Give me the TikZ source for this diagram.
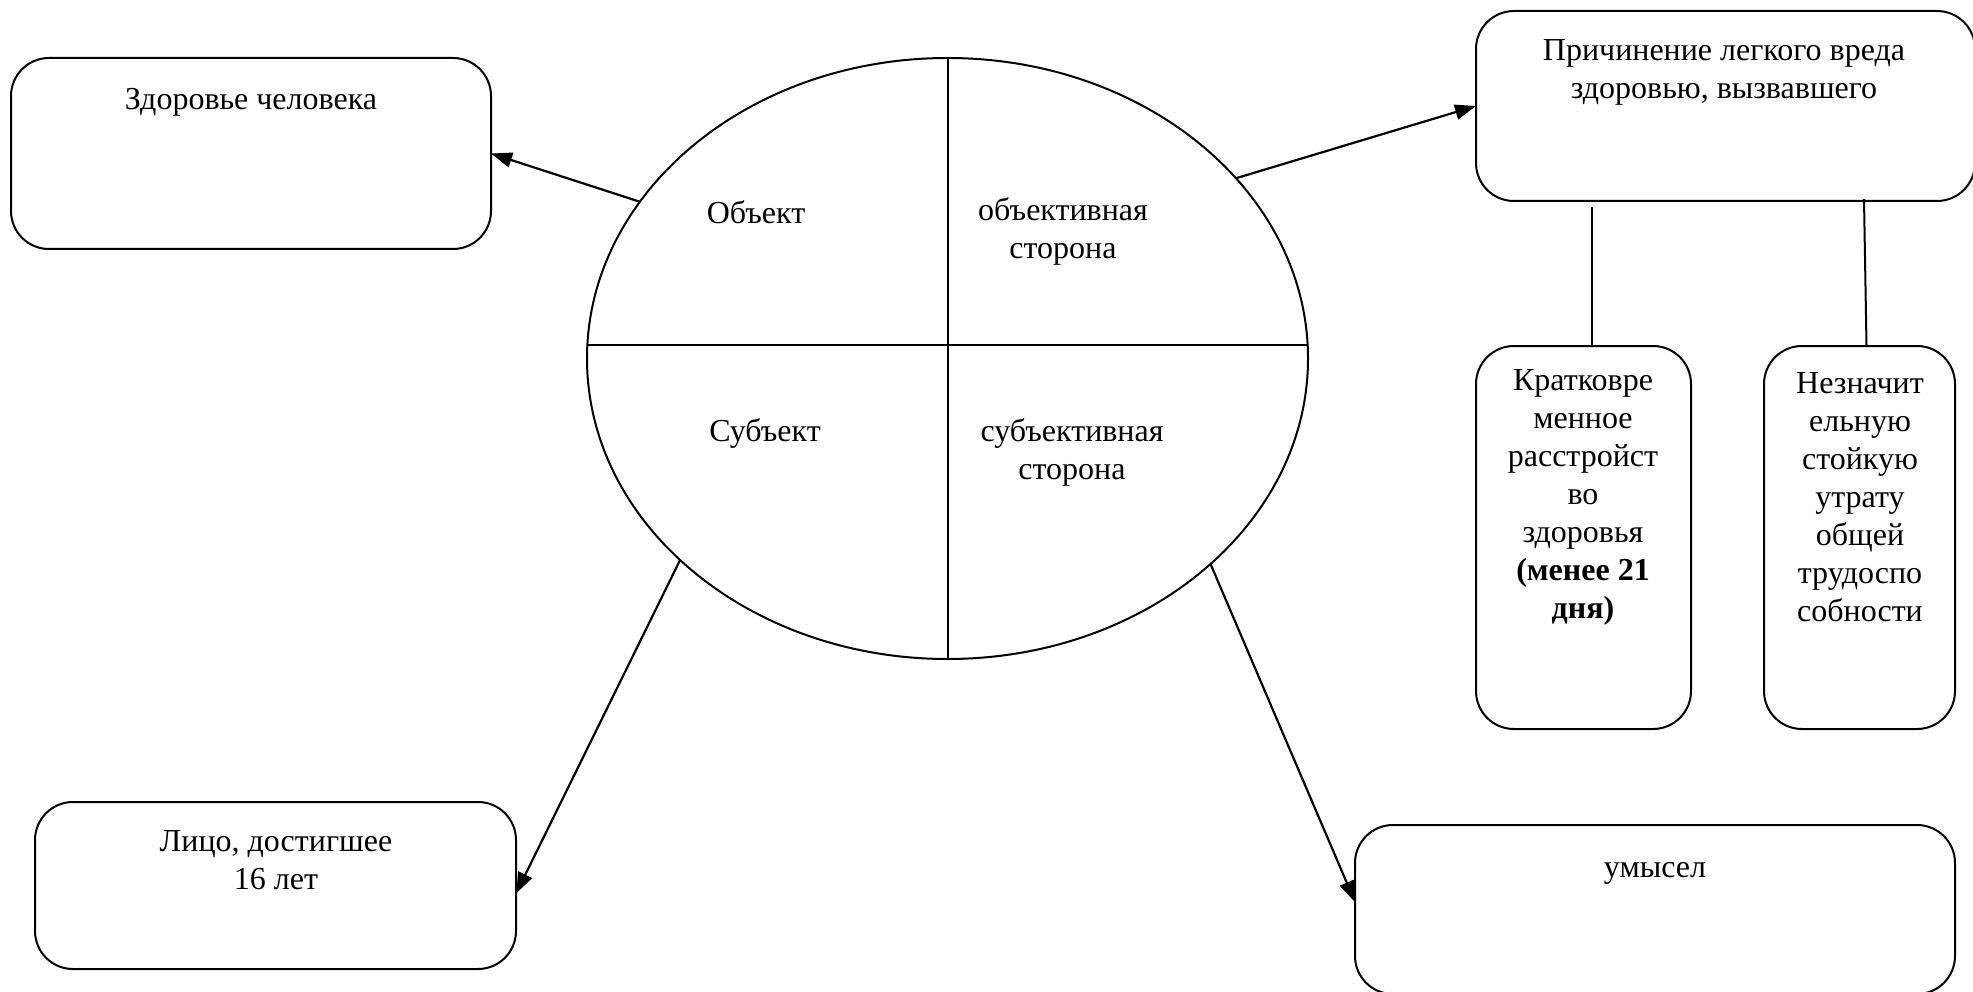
\documentclass[tikz,border=0pt]{standalone}
\usepackage{fontspec}
\setmainfont{Liberation Serif}
\usetikzlibrary{arrows.meta,shapes.geometric}
\begin{document}
\begin{tikzpicture}[x=1pt,y=-1pt,
  box/.style={draw,line width=2pt,rounded corners=38pt,inner sep=0pt,outer sep=0pt},
  txt/.style={align=center,inner sep=0pt,font=\fontsize{32}{38}\selectfont},
  arr/.style={line width=2.2pt,-{Triangle[length=21pt,width=15pt]}},
  conn/.style={line width=2pt}]
\useasboundingbox (0,0) rectangle (1973,992);
% boxes
\node[box,minimum width=480pt,minimum height=191pt] (Z) at (251,153.5) {};
\node[box,minimum width=499pt,minimum height=190pt] (P) at (1725.5,106) {};
\node[box,minimum width=215pt,minimum height=383pt] (K) at (1583.5,537.5) {};
\node[box,minimum width=191pt,minimum height=383pt] (N) at (1859.5,537.5) {};
\node[box,minimum width=481pt,minimum height=167pt] (L) at (275.5,885.5) {};
\node[box,minimum width=600pt,minimum height=169pt] (U) at (1655,909.5) {};
% ellipse
\node[draw,line width=2pt,ellipse,inner sep=0pt,outer sep=0pt,minimum width=721pt,minimum height=601pt] (E) at (947.5,358.5) {};
\coordinate (hl) at (0,345);
\draw[conn] (E.west |- hl) -- (E.east |- hl);
\draw[conn] (E.north) -- (E.south);
% texts
\node[txt] (tZ) at (251,102) {Здоровье человека};
\node[txt] (tP) at (1724,72) {Причинение легкого вреда\\здоровью, вызвавшего};
\node[txt] (tK) at (1583,497) {Кратковре\\менное\\расстройст\\во\\здоровья\\\textbf{(менее 21}\\\textbf{дня)}};
\node[txt] (tN) at (1860,497) {Незначит\\ельную\\стойкую\\утрату\\общей\\трудоспо\\собности};
\node[txt] (tL) at (276,860) {Лицо, достигшее\\16 лет};
\node[txt] (tU) at (1655,873) {умысел};
\node[txt] (tO) at (756,212) {Объект};
\node[txt] (tOS) at (1063,231) {объективная\\сторона};
\node[txt] (tS) at (765,433) {Субъект};
\node[txt] (tSS) at (1072,452) {субъективная\\сторона};
% connectors
\draw[arr] (E.153) -- (Z.east);
\draw[arr] (E.32) -- (P.west);
\draw[arr] (E.217.7) -- ([yshift=-8pt]L.east);
\draw[arr] (E.-38) -- ([yshift=7.5pt]U.west);
\coordinate (c1) at (1592,207);
\draw[conn] (c1) -- (c1 |- K.north);
\coordinate (c2) at (1864,199);
\draw[conn] (c2) -- ([xshift=7pt]N.north);
\end{tikzpicture}
\end{document}
